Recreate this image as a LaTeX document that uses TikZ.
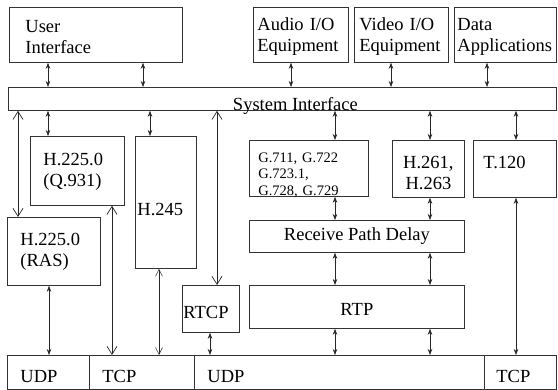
\documentclass[tikz,border=0pt]{standalone}
\usepackage{fontspec}
\setmainfont{Liberation Serif}
\usetikzlibrary{arrows.meta}

\tikzset{
  box/.style={draw=black!80, line width=0.8pt, inner sep=0pt, anchor=north west,
    font=\fontsize{18.5}{21}\selectfont},
  lbox/.style={box, align=left},
  proto/.style={lbox, inner xsep=13pt, text height=27pt, text depth=7pt},
  dbl/.style={{Stealth[length=6pt,width=4.5pt]}-{Stealth[length=6pt,width=4.5pt]},
    line width=0.6pt, black!85},
  open/.style={{Straight Barb[length=8pt,width=10pt]}-{Straight Barb[length=8pt,width=10pt]},
    line width=0.7pt, black!85},
  openthin/.style={{Straight Barb[length=7pt,width=7pt]}-{Straight Barb[length=7pt,width=7pt]},
    line width=0.5pt, black!85},
}

\begin{document}
\begin{tikzpicture}[x=1pt, y=-1pt]
\useasboundingbox (0,0) rectangle (558,390);

% applications
\node[lbox, inner xsep=16pt, text width=141pt, text height=25pt, text depth=30pt] (ui) at (9,7) {User\\Interface};
\node[lbox, inner xsep=4pt, text width=87pt, text height=23pt, text depth=32pt] (audio) at (253,7) {Audio I/O\\Equipment};
\node[lbox, inner xsep=5pt, text width=84pt, text height=23pt, text depth=32pt] (video) at (354,7) {Video I/O\\Equipment};
\node[lbox, inner xsep=3pt, text width=96pt, text height=23pt, text depth=32pt] (data) at (454,7) {Data\\Applications};

% system interface
\node[box, minimum width=548pt, text height=23pt, text depth=0pt] (sys) at (8,87) {\hspace*{26pt}System Interface};

% control
\node[lbox, inner xsep=13pt, text width=68pt, text height=29pt, text depth=40pt] (q931) at (30,136) {H.225.0\\(Q.931)};
\node[lbox, inner xsep=13pt, text width=67pt, text height=28pt, text depth=40pt] (ras) at (7,217) {H.225.0\\(RAS)};
\node[lbox, inner xsep=2pt, text width=57pt, text height=79pt, text depth=53pt] (h245) at (135,136) {H.245};
\node[lbox, inner xsep=1pt, text width=55pt, text height=33pt, text depth=14pt] (rtcp) at (182,285) {RTCP};

% media
\node[lbox, inner xsep=9pt, text width=101pt, text height=22pt, text depth=34pt,
  font=\fontsize{14.5}{16.5}\selectfont] (g711) at (249,140) {G.711, G.722\\G.723.1,\\G.728, G.729};
\node[box, align=center, text width=72pt, text height=28pt, text depth=29pt] (h261) at (392,140) {H.261,\\H.263};
\node[lbox, inner xsep=10pt, text width=63pt, text height=28pt, text depth=29pt] (t120) at (473,140) {T.120};
\node[box, minimum width=215pt, text height=20pt, text depth=12pt] (rpd) at (249,220) {Receive Path Delay};
\node[box, minimum width=215pt, text height=30pt, text depth=13pt] (rtp) at (249,285) {RTP};

% transport
\node[proto, text width=56pt] (udp1) at (7,355) {UDP};
\node[proto, text width=79pt] (tcp1) at (89,355) {TCP};
\node[proto, text width=264pt] (udp2) at (194,355) {UDP};
\node[proto, inner xsep=12pt, text width=48pt] (tcp2) at (484,355) {TCP};

% columns
\coordinate (a1) at (48,0);
\coordinate (a2) at (143,0);
\coordinate (a3) at (291,0);
\coordinate (a4) at (391,0);
\coordinate (a5) at (487,0);
\coordinate (b1) at (18,0);
\coordinate (b3) at (150,0);
\coordinate (b4) at (217,0);
\coordinate (b5) at (335,0);
\coordinate (b6) at (430,0);
\coordinate (b7) at (516,0);
\coordinate (c1) at (49,0);
\coordinate (c2) at (112,0);
\coordinate (c3) at (159,0);
\coordinate (c4) at (210,0);

% connectors
\draw[dbl] (ui.south -| a1) -- (sys.north -| a1);
\draw[dbl] (ui.south -| a2) -- (sys.north -| a2);
\draw[dbl] (audio.south -| a3) -- (sys.north -| a3);
\draw[dbl] (video.south -| a4) -- (sys.north -| a4);
\draw[dbl] (data.south -| a5) -- (sys.north -| a5);

\draw[open] (sys.south -| b1) -- (ras.north -| b1);
\draw[dbl] (sys.south -| a1) -- (q931.north -| a1);
\draw[dbl] (sys.south -| b3) -- (h245.north -| b3);
\draw[open] (sys.south -| b4) -- (rtcp.north -| b4);
\draw[dbl] (sys.south -| b5) -- (g711.north -| b5);
\draw[dbl] (sys.south -| b6) -- (h261.north -| b6);
\draw[dbl] (sys.south -| b7) -- (t120.north -| b7);

\draw[dbl] (g711.south -| b5) -- (rpd.north -| b5);
\draw[dbl] (h261.south -| b6) -- (rpd.north -| b6);
\draw[dbl] (rpd.south -| b5) -- (rtp.north -| b5);
\draw[dbl] (rpd.south -| b6) -- (rtp.north -| b6);
\draw[dbl] (rtp.south -| b5) -- (udp2.north -| b5);
\draw[dbl] (rtp.south -| b6) -- (udp2.north -| b6);
\draw[dbl] (t120.south -| b7) -- (tcp2.north -| b7);

\draw[dbl] (ras.south -| c1) -- (udp1.north -| c1);
\draw[open] (q931.south -| c2) -- (tcp1.north -| c2);
\draw[openthin] (h245.south -| c3) -- (tcp1.north -| c3);
\draw[dbl] (rtcp.south -| c4) -- (udp2.north -| c4);
\end{tikzpicture}
\end{document}
